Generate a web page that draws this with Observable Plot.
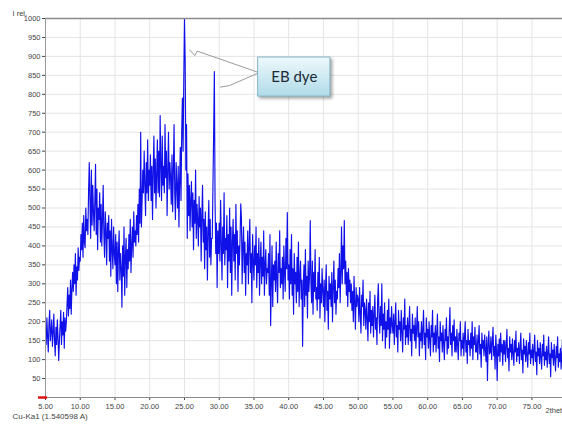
<!DOCTYPE html>
<html>
<head>
<meta charset="utf-8">
<script src="https://cdn.jsdelivr.net/npm/d3@7"></script>
<script src="https://cdn.jsdelivr.net/npm/@observablehq/plot@0.6"></script>
<style>
  html, body { margin: 0; padding: 0; background: white; overflow: hidden; }
  #chart { width: 562px; height: 425px; overflow: hidden; }
</style>
</head>
<body>
<div id="chart"></div>
<script>
// ---- Data ----
const twoThetaStart = 5.0;   // degrees
const twoThetaStep = 0.1;    // degrees per sample
const intensity = [
  // 5
  180,140,210,160,120,195,230,150,175,205,
  // 6
  135,170,220,150,110,185,140,205,160,98,
  // 7
  150,190,230,140,200,165,225,130,210,175,
  // 8
  200,245,290,215,270,235,310,220,285,330,
  // 9
  280,350,300,380,270,345,310,395,335,370,
  // 10
  360,430,390,460,370,480,410,395,500,440,
  // 11
  470,430,545,620,515,420,600,455,560,490,
  // 12
  440,520,615,430,550,390,500,470,540,410,
  // 13
  510,400,470,560,430,370,490,440,350,460,
  // 14
  420,480,360,440,320,470,390,340,450,380,
  // 15
  350,430,300,410,280,390,440,310,380,340,
  // 16
  238,400,320,450,270,370,420,290,390,340,
  // 17
  430,360,470,330,400,450,370,490,410,440,
  // 18
  400,480,430,510,410,550,460,700,450,520,
  // 19
  600,540,650,560,480,620,540,680,520,600,
  // 20
  560,640,520,610,470,600,690,540,630,500,
  // 21
  590,680,540,650,530,744,610,520,690,560,
  // 22
  610,540,720,580,650,480,600,700,550,620,
  // 23
  580,510,640,490,600,720,540,470,620,560,
  // 24
  500,610,450,570,660,520,700,790,650,840,
  // 25
  1000,890,600,720,420,590,480,560,440,520,
  // 26
  570,450,540,390,520,460,600,420,510,470,
  // 27
  400,530,450,500,360,480,560,410,470,340,
  // 28
  490,390,450,310,440,520,370,470,350,420,
  // 29
  420,560,700,860,520,380,460,290,440,380,
  // 30
  460,360,520,410,310,450,380,540,350,420,
  // 31
  390,480,290,430,360,500,330,450,270,410,
  // 32
  470,360,430,310,510,380,440,280,400,350,
  // 33
  420,511,470,300,400,450,330,410,270,380,
  // 34
  350,440,300,400,470,330,380,250,430,360,
  // 35
  310,400,350,450,290,380,330,420,270,360,
  // 36
  410,300,370,320,440,270,350,390,300,340,
  // 37
  330,380,270,430,190,300,400,240,350,310,
  // 38
  360,280,410,310,250,380,330,440,290,340,
  // 39
  300,370,260,400,330,280,420,340,488,310,
  // 40
  350,260,390,300,430,270,340,220,380,300,
  // 41
  330,250,370,280,410,240,320,360,260,310,
  // 42
  135,300,350,240,390,270,320,210,360,280,
  // 43
  320,467,300,250,360,220,330,280,390,260,
  // 44
  290,230,330,260,370,210,300,250,340,280,
  // 45
  240,310,200,290,350,230,280,180,320,260,
  // 46
  300,240,330,200,290,360,250,310,220,280,
  // 47
  260,340,290,380,250,330,450,300,400,340,
  // 48
  467,300,360,270,330,240,340,280,310,250,
  // 49
  300,230,280,200,320,250,180,290,240,270,
  // 50
  260,200,290,220,170,270,240,310,190,250,
  // 51
  230,180,260,210,150,250,200,280,170,230,
  // 52
  190,240,160,220,270,180,210,140,260,300,
  // 53
  210,170,240,190,300,150,220,180,250,130,
  // 54
  200,160,230,180,260,130,210,170,240,190,
  // 55
  170,220,140,200,250,160,190,120,230,180,
  // 56
  200,150,230,170,120,210,180,260,140,190,
  // 57
  160,210,140,190,240,150,180,110,220,170,
  // 58
  190,150,210,130,180,240,160,200,110,170,
  // 59
  150,200,130,180,230,140,170,100,210,160,
  // 60
  180,130,200,150,110,190,160,230,120,170,
  // 61
  140,190,120,170,220,130,160,95,200,150,
  // 62
  170,120,190,140,100,180,150,210,115,160,
  // 63
  130,180,237,140,170,110,190,150,205,120,
  // 64
  160,120,180,140,100,170,150,200,110,150,
  // 65
  130,170,110,160,200,120,150,90,180,140,
  // 66
  150,110,170,130,200,100,160,140,185,120,
  // 67
  120,165,100,150,190,115,140,80,170,130,
  // 68
  150,110,165,125,95,160,45,140,175,115,
  // 69
  120,160,100,145,185,110,135,75,165,125,
  // 70
  45,140,110,155,95,170,120,140,85,150,
  // 71
  115,150,95,135,180,105,130,70,160,120,
  // 72
  140,100,155,115,85,150,120,175,95,130,
  // 73
  110,145,90,130,170,100,125,65,155,115,
  // 74
  135,95,150,110,80,145,115,170,90,125,
  // 75
  105,140,85,125,165,95,120,60,150,110,
  // 76
  130,90,145,105,75,140,110,165,85,120,
  // 77
  100,135,80,120,160,90,115,55,145,105,
  // 78
  125,85,140,100,70,135,105,160,80,115,
  // 79
  95,130,75,115,155,90,110,60,140,100
];

const xTicks = [5,10,15,20,25,30,35,40,45,50,55,60,65,70,75];
const yTicks = [50,100,150,200,250,300,350,400,450,500,550,600,650,700,750,800,850,900,950,1000];
const yLabel = "I rel.";
const xLabel = "2theta";
const sourceLabel = "Cu-Ka1 (1.540598 A)";

// Annotation (data coordinates)
const noteBox = [{x1: 35.6, x2: 46.0, y1: 794, y2: 897}];
const noteText = [{x: 40.8, y: 845, text: "EB dye"}];
const calloutA = [{x: 25.76, y: 917}, {x: 26.48, y: 902}, {x: 26.83, y: 914}, {x: 35.6, y: 858}];
const calloutB = [{x: 35.6, y: 856}, {x: 31.47, y: 823}, {x: 30.18, y: 819}];

const data = intensity.map((v, i) => ({t: twoThetaStart + i * twoThetaStep, v}));

const chart = Plot.plot({
  width: 562,
  height: 425,
  marginLeft: 45,
  marginRight: 0,
  marginTop: 18,
  marginBottom: 28,
  style: {fontFamily: "Liberation Sans, Arial, sans-serif", fontSize: "7.5px", color: "#444", background: "white"},
  x: {domain: [5, 79.4], ticks: xTicks, tickFormat: d => d.toFixed(2), tickSize: 3, tickPadding: 3, label: null},
  y: {domain: [0, 1000], ticks: yTicks, tickFormat: d => String(d), tickSize: 3, tickPadding: 2, label: null},
  marks: [
    Plot.ruleX(xTicks, {stroke: "#e4e4e4", strokeWidth: 1}),
    Plot.ruleY(yTicks, {stroke: "#e4e4e4", strokeWidth: 1}),
    Plot.line(data, {x: "t", y: "v", stroke: "#1010e8", strokeWidth: 1.15}),
    Plot.ruleY([1000], {stroke: "#8a8a8a", strokeWidth: 1.5}),
    Plot.ruleX([5], {stroke: "#9a9a9a", strokeWidth: 1}),
    Plot.ruleY([0], {stroke: "#8a8a8a", strokeWidth: 1}),
    Plot.ruleY([0], {x1: 4.0, x2: 5.3, stroke: "#e01010", strokeWidth: 2.5}),
    Plot.line(calloutA, {x: "x", y: "y", stroke: "#9a9a9a", strokeWidth: 1}),
    Plot.line(calloutB, {x: "x", y: "y", stroke: "#9a9a9a", strokeWidth: 1}),
    Plot.rect(noteBox, {x1: "x1", x2: "x2", y1: "y1", y2: "y2", fill: "url(#ebgrad)", stroke: "#86b6c8", strokeWidth: 1}),
    Plot.text(noteText, {x: "x", y: "y", text: "text", fontSize: 15, fill: "#1c2a38", fontFamily: "Lato, Open Sans, sans-serif"}),
    Plot.text([yLabel], {frameAnchor: "top-left", dx: -33, dy: -8, textAnchor: "start", fontSize: 7.5, fill: "#444"}),
    Plot.text([sourceLabel], {frameAnchor: "bottom-left", dx: -33, dy: 21, textAnchor: "start", fontSize: 8, fill: "#444"}),
    Plot.text([xLabel], {frameAnchor: "bottom-right", dx: -17, dy: 15, textAnchor: "start", fontSize: 7.5, fill: "#444"})
  ]
});

const sel = d3.select(chart);
sel.insert("defs", ":first-child").html(
  '<linearGradient id="ebgrad" x1="0" y1="0" x2="0" y2="1">' +
  '<stop offset="0" stop-color="#eef9fc"/><stop offset="1" stop-color="#b0dbe8"/></linearGradient>'
);
sel.selectAll('g[aria-label="rect"] rect').style("filter", "drop-shadow(2px 2px 1.5px rgba(0,0,0,0.35))");
sel.style("overflow", "hidden");
document.getElementById("chart").appendChild(chart);
</script>
</body>
</html>
